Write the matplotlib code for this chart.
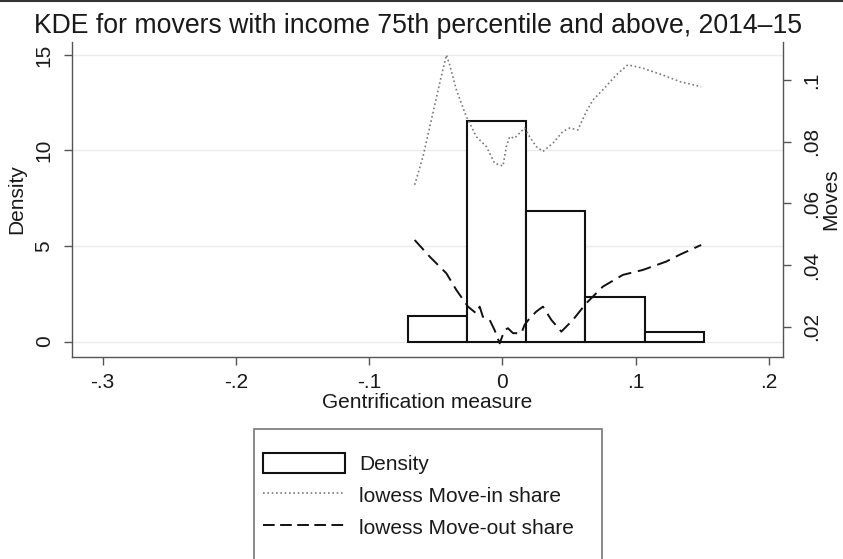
import matplotlib
matplotlib.use("Agg")
import matplotlib.pyplot as plt
from matplotlib.patches import Rectangle
from matplotlib.lines import Line2D

plt.rcParams['font.family'] = ['Liberation Sans', 'DejaVu Sans']

# ---- data ----
bin_edges = [-0.0708, -0.0264, 0.0180, 0.0624, 0.1068, 0.1512]
density = [1.34, 11.56, 6.82, 2.33, 0.50]

movein_x = [-0.0658, -0.0596, -0.0533, -0.0470, -0.0420, -0.0395, -0.0345, -0.0270,
            -0.0195, -0.0120, -0.0058, 0.0005, 0.0030, 0.0055, 0.0092, 0.0167,
            0.0205, 0.0255, 0.0305, 0.0380, 0.0455, 0.0505, 0.0567, 0.0630,
            0.0680, 0.0755, 0.0855, 0.0942, 0.1055, 0.1205, 0.1330, 0.1493]
movein_y = [0.0660, 0.0751, 0.0870, 0.0990, 0.1081, 0.1049, 0.0968, 0.0881,
            0.0816, 0.0784, 0.0730, 0.0721, 0.0784, 0.0816, 0.0811, 0.0844,
            0.0816, 0.0784, 0.0768, 0.0795, 0.0833, 0.0844, 0.0838, 0.0897,
            0.0935, 0.0968, 0.1016, 0.1049, 0.1038, 0.1016, 0.0995, 0.0978]

moveout_x = [-0.0658, -0.0545, -0.0420, -0.0345, -0.0258, -0.0195, -0.0170, -0.0146,
             -0.0095, -0.0058, -0.0020, 0.0017, 0.0042, 0.0080, 0.0143, 0.0167,
             0.0205, 0.0255, 0.0305, 0.0368, 0.0443, 0.0530, 0.0630, 0.0755,
             0.0905, 0.1055, 0.1230, 0.1330, 0.1493]
moveout_y = [0.0481, 0.0427, 0.0373, 0.0319, 0.0265, 0.0243, 0.0265, 0.0232,
             0.0222, 0.0189, 0.0146, 0.0189, 0.0195, 0.0179, 0.0179, 0.0206,
             0.0227, 0.0249, 0.0265, 0.0222, 0.0184, 0.0222, 0.0276, 0.0330,
             0.0368, 0.0384, 0.0411, 0.0433, 0.0465]

xticks = [-0.3, -0.2, -0.1, 0.0, 0.1, 0.2]
xticklabels = ['-.3', '-.2', '-.1', '0', '.1', '.2']
yticks_left = [0, 5, 10, 15]
yticks_right = [0.02, 0.04, 0.06, 0.08, 0.10]
yticklabels_right = ['.02', '.04', '.06', '.08', '.1']

title = "KDE for movers with income 75th percentile and above, 2014\u201315"

# ---- figure ----
W, H = 843, 559
fig = plt.figure(figsize=(W / 100, H / 100), dpi=100)
fig.patch.set_facecolor('white')
ax = fig.add_axes([71.7 / W, 1 - 356.7 / H, (782.7 - 71.7) / W, (356.7 - 41.7) / H])

axis_col = '#555555'
text_col = '#1a1a1a'
fs = 15

# histogram bars
widths = [bin_edges[i + 1] - bin_edges[i] for i in range(len(density))]
ax.bar(bin_edges[:-1], density, width=widths, align='edge', facecolor='white',
       edgecolor='#111111', linewidth=1.5, zorder=3)

ax.set_xlim(-0.3233, 0.2105)
ax.set_ylim(-0.79, 15.69)
ax.set_xticks(xticks)
ax.set_xticklabels(xticklabels)
ax.set_yticks(yticks_left)
ax.set_yticklabels([str(v) for v in yticks_left], rotation=90, va='center')
ax.grid(axis='y', color='#ebebeb', linewidth=1.0, zorder=0)
ax.set_axisbelow(True)
for s in ['top', 'right']:
    ax.spines[s].set_visible(False)
for s in ['left', 'bottom']:
    ax.spines[s].set_color(axis_col)
    ax.spines[s].set_linewidth(1.0)
ax.tick_params(axis='both', direction='out', length=6, width=1.0, color=axis_col,
               labelsize=fs, labelcolor=text_col)
ax.tick_params(axis='x', pad=6)
ax.tick_params(axis='y', pad=7)
ax.set_xlabel('Gentrification measure', fontsize=fs, color=text_col)
ax.xaxis.set_label_coords(0.5, -0.115)
ax.set_ylabel('Density', fontsize=fs, color=text_col)
ax.yaxis.set_label_coords(-0.064, 0.5)

# right axis lines
ax2 = ax.twinx()
ax2.plot(movein_x, movein_y, color='#7a7a7a', linewidth=1.2, linestyle=(0, (1, 1.6)), zorder=4)
ax2.plot(moveout_x, moveout_y, color='#111111', linewidth=1.4, linestyle=(0, (7, 3.5)), zorder=4)
ax2.set_ylim(0.01027, 0.1124)
ax2.set_yticks(yticks_right)
ax2.set_yticklabels(yticklabels_right, rotation=90, va='center')
for s in ['top', 'left', 'bottom']:
    ax2.spines[s].set_visible(False)
ax2.spines['right'].set_color(axis_col)
ax2.spines['right'].set_linewidth(1.0)
ax2.tick_params(axis='y', direction='out', length=6, width=1.0, color=axis_col,
                labelsize=fs, labelcolor=text_col, pad=8)
ax2.set_ylabel('Moves', fontsize=fs, color=text_col, rotation=90)
ax2.yaxis.set_label_coords(1.0545, 0.5)

# title
fig.text(418 / W, 1 - 33 / H, title, ha='center', va='baseline', fontsize=19.2, color=text_col)

# top border line
fig.add_artist(Line2D([0, 1], [1 - 1 / H, 1 - 1 / H], transform=fig.transFigure,
                      color='#333333', linewidth=1.5))

# legend
handles = [Rectangle((0, 0), 1, 1, facecolor='white', edgecolor='#111111', linewidth=1.5),
           Line2D([], [], color='#7a7a7a', linewidth=1.2, linestyle=(0, (1, 1.6))),
           Line2D([], [], color='#111111', linewidth=1.4, linestyle=(0, (6, 2.8)))]
labels = ['Density', 'lowess Move-in share', 'lowess Move-out share']
leg = fig.legend(handles, labels, loc='upper left',
                 bbox_to_anchor=(263 / W, 1 - 452.5 / H), bbox_transform=fig.transFigure,
                 frameon=False, fontsize=fs, borderpad=0, borderaxespad=0,
                 handlelength=3.95, handleheight=1.1, handletextpad=0.65,
                 labelspacing=0.53, labelcolor=text_col)

fig.add_artist(Rectangle((254 / W, 1 - 600 / H), (602 - 254) / W, (600 - 429) / H,
                         transform=fig.transFigure, facecolor='none',
                         edgecolor='#777777', linewidth=1.2, clip_on=False))

fig.savefig('out.png', dpi=100)
